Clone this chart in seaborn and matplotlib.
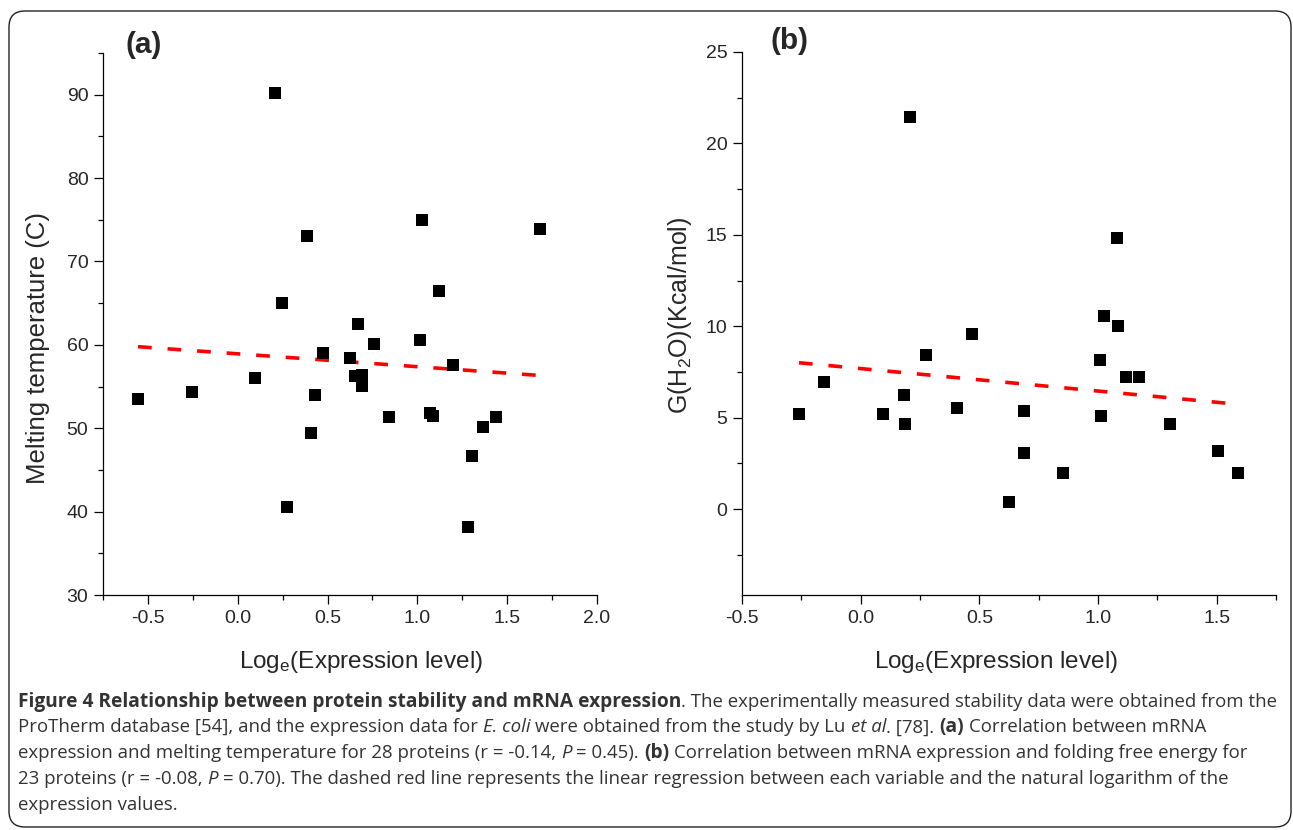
import numpy as np
import pandas as pd
import matplotlib
matplotlib.use('Agg')
import matplotlib.pyplot as plt
import seaborn as sns
from matplotlib.ticker import MultipleLocator
from matplotlib.patches import FancyBboxPatch

# DATA
# (a) melting temperature vs log expression, 28 proteins
tm_logexp = [-0.555, -0.256, 0.096, 0.207, 0.246, 0.276, 0.385, 0.406, 0.429, 0.472,
             0.624, 0.654, 0.671, 0.690, 0.694, 0.758, 0.844, 1.015, 1.026, 1.070,
             1.086, 1.122, 1.201, 1.284, 1.306, 1.363, 1.436, 1.682]
tm_value = [53.5, 54.4, 56.0, 90.2, 65.0, 40.6, 73.0, 49.4, 54.0, 59.0,
            58.4, 56.3, 62.5, 56.4, 55.1, 60.1, 51.4, 60.6, 75.0, 51.8,
            51.5, 66.4, 57.6, 38.2, 46.7, 50.2, 51.4, 73.9]

# (b) folding free energy vs log expression, 23 proteins
dg_logexp = [-0.260, -0.154, 0.094, 0.184, 0.187, 0.207, 0.274, 0.405, 0.469, 0.624,
             0.687, 0.689, 0.853, 1.007, 1.012, 1.024, 1.080, 1.083, 1.118, 1.172,
             1.303, 1.504, 1.588]
dg_value = [5.20, 6.96, 5.18, 6.23, 4.63, 21.44, 8.44, 5.51, 9.58, 0.38,
            5.37, 3.06, 2.00, 8.13, 5.11, 10.57, 14.82, 10.02, 7.22, 7.22,
            4.65, 3.19, 2.00]

df_a = pd.DataFrame({'logexp': tm_logexp, 'tm': tm_value})
df_b = pd.DataFrame({'logexp': dg_logexp, 'dg': dg_value})

caption_lines = [
    [("Figure 4 Relationship between protein stability and mRNA expression", 'b'),
     (". The experimentally measured stability data were obtained from the", 'r')],
    [("ProTherm database [54], and the expression data for ", 'r'), ("E. coli", 'i'),
     (" were obtained from the study by Lu ", 'r'), ("et al", 'i'), (". [78]. ", 'r'),
     ("(a)", 'b'), (" Correlation between mRNA", 'r')],
    [("expression and melting temperature for 28 proteins (r = -0.14, ", 'r'), ("P", 'i'),
     (" = 0.45). ", 'r'), ("(b)", 'b'), (" Correlation between mRNA expression and folding free energy for", 'r')],
    [("23 proteins (r = -0.08, ", 'r'), ("P", 'i'),
     (" = 0.70). The dashed red line represents the linear regression between each variable and the natural logarithm of the", 'r')],
    [("expression values.", 'r')],
]

# PLOTTING
sns.set_style('ticks')
plt.rcParams['font.family'] = ['Liberation Sans', 'DejaVu Sans']
plt.rcParams['mathtext.fontset'] = 'custom'
plt.rcParams['mathtext.rm'] = 'Liberation Sans'
plt.rcParams['mathtext.it'] = 'Liberation Sans:italic'
plt.rcParams['axes.unicode_minus'] = False

W, H = 1293, 830
fig = plt.figure(figsize=(W / 100, H / 100), dpi=100)
ax_a = fig.add_axes([103 / W, 1 - 595 / H, 494 / W, 542 / H])
ax_b = fig.add_axes([742 / W, 1 - 595 / H, 534 / W, 543 / H])

for ax, df, ycol in [(ax_a, df_a, 'tm'), (ax_b, df_b, 'dg')]:
    sns.regplot(data=df, x='logexp', y=ycol, ax=ax, ci=None, marker='s',
                scatter_kws=dict(s=72, color='black', linewidths=0, zorder=3, alpha=1),
                line_kws=dict(color='#ff0000', linewidth=2.6, linestyle=(0, (3.8, 4.4)), zorder=2))
    for side in ['top', 'right']:
        ax.spines[side].set_visible(False)
    for side in ['left', 'bottom']:
        ax.spines[side].set_linewidth(0.9)
        ax.spines[side].set_color('black')
    ax.tick_params(which='major', direction='out', length=6.5, width=0.9, labelsize=14, color='black', pad=4)
    ax.tick_params(which='minor', direction='out', length=3.6, width=0.9, color='black')
    ax.xaxis.set_major_locator(MultipleLocator(0.5))
    ax.xaxis.set_minor_locator(MultipleLocator(0.25))

ax_a.set_xlim(-0.75, 2.0)
ax_a.set_ylim(30, 95)
ax_a.yaxis.set_major_locator(MultipleLocator(10))
ax_a.yaxis.set_minor_locator(MultipleLocator(5))
ax_a.set_yticks([30, 40, 50, 60, 70, 80, 90])
ax_a.set_ylabel('Melting temperature (C)', fontsize=18.5)
ax_a.set_xlabel(r'Log$_{\mathrm{e}}$(Expression level)', fontsize=17.5)
ax_a.yaxis.set_label_coords(-0.107, 0.455)
ax_a.xaxis.set_label_coords(0.522, -0.10)

ax_b.set_xlim(-0.5, 1.75)
ax_b.set_ylim(-4.7, 25)
ax_b.yaxis.set_major_locator(MultipleLocator(5))
ax_b.yaxis.set_minor_locator(MultipleLocator(2.5))
ax_b.set_yticks([0, 5, 10, 15, 20, 25])
ax_b.set_ylabel(r'G(H$_{\mathrm{2}}$O)(Kcal/mol)', fontsize=18)
ax_b.set_xlabel(r'Log$_{\mathrm{e}}$(Expression level)', fontsize=17.5)
ax_b.yaxis.set_label_coords(-0.09, 0.515)
ax_b.xaxis.set_label_coords(0.476, -0.10)

fig.text(144 / W, 1 - 45 / H, '(a)', fontsize=21.5, fontweight='bold', ha='center', va='center')
fig.text(789 / W, 1 - 41 / H, '(b)', fontsize=21.5, fontweight='bold', ha='center', va='center')

# rounded frame around the figure and the caption
frame = FancyBboxPatch((9, 3), 1282, 816, boxstyle='round,pad=0,rounding_size=16',
                       transform=None, facecolor='none', edgecolor='#222222', linewidth=1.0)
fig.patches.append(frame)

# caption: draw each line piece by piece so bold/italic parts sit inline
renderer = fig.canvas.get_renderer()
styles = {'r': dict(fontweight='normal', fontstyle='normal', fontsize=13.4),
          'b': dict(fontweight='bold', fontstyle='normal', fontsize=13.8),
          'i': dict(fontweight='normal', fontstyle='italic', fontsize=13.4)}


def text_width(s, st):
    t = fig.text(0, 0, s, family='Open Sans', **styles[st])
    w = t.get_window_extent(renderer).width
    t.remove()
    return w


space_w = text_width('x x', 'r') - text_width('xx', 'r')
baselines = [706.5, 732.3, 758.1, 783.9, 809.7]
for line, yb in zip(caption_lines, baselines):
    x = 18
    for txt, st in line:
        if txt.startswith(' '):
            x += space_w
        core = txt.strip(' ')
        t = fig.text(x / W, 1 - yb / H, core, family='Open Sans',
                     color='#333333', va='baseline', ha='left', **styles[st])
        x += t.get_window_extent(renderer).width
        if txt.endswith(' '):
            x += space_w

fig.savefig('out.png', dpi=100)
